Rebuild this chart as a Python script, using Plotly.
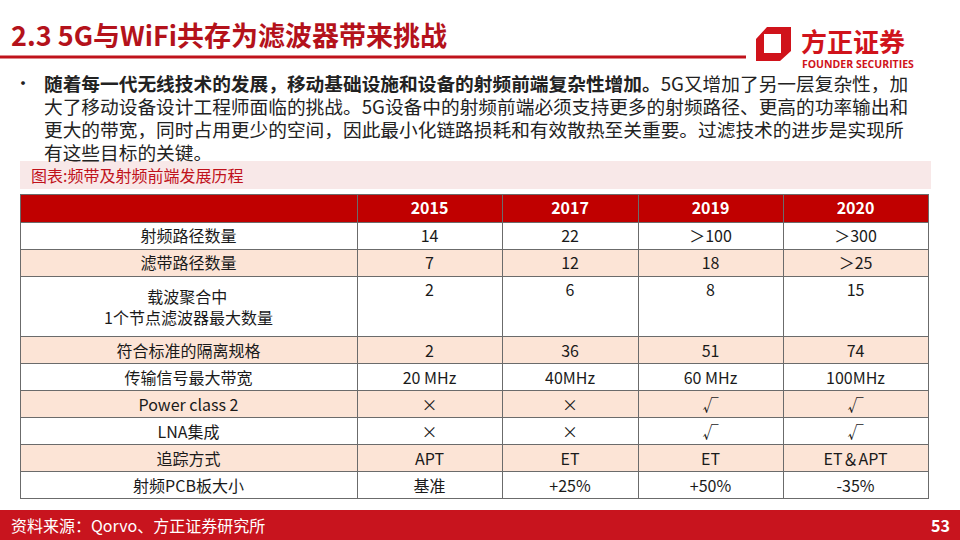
import plotly.graph_objects as go

# table data
years = ['2015', '2017', '2019', '2020']
row_labels = ['射频路径数量', '滤带路径数量', '\u3000\u3000\u2002\u2009载波聚合中<br>1个节点滤波器最大数量', '符合标准的隔离规格',
              '传输信号最大带宽', 'Power class 2', 'LNA集成', '追踪方式', '射频PCB板大小']
col_2015 = ['14', '7', '2', '2', '20 MHz', '×', '×', 'APT', '基准']
col_2017 = ['22', '12', '6', '36', '40MHz', '×', '×', 'ET', '+25%']
col_2019 = ['＞100', '18', '8', '51', '60 MHz', '√', '√', 'ET', '+50%']
col_2020 = ['＞300', '＞25', '15', '74', '100MHz', '√', '√', 'ET＆APT', '-35%']

title = '2.3 5G与WiFi共存为滤波器带来挑战'
bullet_lines = [
    '<b>随着每一代无线技术的发展，移动基础设施和设备的射频前端复杂性增加。</b>5G又增加了另一层复杂性，加',
    '大了移动设备设计工程师面临的挑战。5G设备中的射频前端必须支持更多的射频路径、更高的功率输出和',
    '更大的带宽，同时占用更少的空间，因此最小化链路损耗和有效散热至关重要。过滤技术的进步是实现所',
    '有这些目标的关键。',
]
caption = '图表:频带及射频前端发展历程'
source = '资料来源：Qorvo、方正证券研究所'
page_no = '53'

RED = '#C00000'
PEACH = '#FCE4D6'
FONT = 'Noto Sans CJK SC'
W, H = 960, 540

row_fill = ['white' if i % 2 == 0 else PEACH for i in range(len(row_labels))]

fig = go.Figure()

# main table
fig.add_trace(go.Table(
    domain=dict(x=[20 / W, 928 / W], y=[1 - 505 / H, 1 - 194 / H]),
    columnwidth=[337, 145, 136, 145, 145],
    header=dict(values=[''] + years,
                fill_color=RED, line=dict(color='#6b6b6b', width=1),
                font=dict(family=FONT, size=16, color='white', weight='bold'),
                align='center', height=28),
    cells=dict(values=[row_labels, col_2015, col_2017, col_2019, col_2020],
               fill_color=[row_fill] * 5, line=dict(color='#6b6b6b', width=1),
               font=dict(family=FONT, size=16, color='#1a1a1a'),
               align='center', height=27),
))

shapes = []
ann = []

# title + rule line
ann.append(dict(x=9, y=34, text=f'<b>{title}</b>', xanchor='left', yanchor='middle',
                font=dict(family=FONT, size=27, color='#B4121B')))
shapes.append(dict(type='line', x0=0, x1=746, y0=57, y1=57, line=dict(color='#C0121B', width=3)))

# logo
shapes.append(dict(type='path',
                   path='M 767 27 L 791 27 L 791 51 L 780 61 L 756 61 L 756 39 Z '
                        'M 764 34 L 781 34 L 781 53 L 764 53 Z',
                   fillcolor='#D0131B', line=dict(width=0)))
ann.append(dict(x=799, y=40, text='<b>方正证券</b>', xanchor='left', yanchor='middle',
                font=dict(family=FONT, size=26, color='#D0131B')))
ann.append(dict(x=800, y=64, text='<b>FOUNDER SECURITIES</b>', xanchor='left', yanchor='middle',
                font=dict(family='Open Sans', size=10.5, color='#D0131B')))

# bullet text
ann.append(dict(x=12, y=82, text='•', xanchor='left', yanchor='middle',
                font=dict(family=FONT, size=18, color='#222')))
for i, line in enumerate(bullet_lines):
    ann.append(dict(x=42, y=82 + i * 23, text=line, xanchor='left', yanchor='middle',
                    font=dict(family=FONT, size=18.7, color='#222')))

# caption box
shapes.append(dict(type='rect', x0=20, x1=931, y0=161, y1=189, fillcolor='#F8E8E8', line=dict(width=0)))
ann.append(dict(x=29, y=175, text=caption, xanchor='left', yanchor='middle',
                font=dict(family=FONT, size=16, color='#C0121B')))

# footer
shapes.append(dict(type='rect', x0=0, x1=960, y0=510, y1=540, fillcolor='#C8141E', line=dict(width=0)))
ann.append(dict(x=9, y=525, text=source, xanchor='left', yanchor='middle',
                font=dict(family=FONT, size=16, color='white')))
ann.append(dict(x=952, y=525, text=f'<b>{page_no}</b>', xanchor='right', yanchor='middle',
                font=dict(family=FONT, size=16, color='white')))

for s in shapes:
    s.update(xref='x', yref='y', layer='below')
for a in ann:
    a.update(xref='x', yref='y', showarrow=False)

fig.update_layout(
    width=W, height=H,
    margin=dict(l=0, r=0, t=0, b=0),
    paper_bgcolor='white', plot_bgcolor='rgba(0,0,0,0)',
    xaxis=dict(range=[0, W], visible=False, fixedrange=True),
    yaxis=dict(range=[H, 0], visible=False, fixedrange=True),
    shapes=shapes, annotations=ann, showlegend=False,
)

# drop the browser's default 8px body margin so the slide sits at the window origin
fig.write_html('out.html', config={'displayModeBar': False},
               post_script="document.body.style.margin='0';")
